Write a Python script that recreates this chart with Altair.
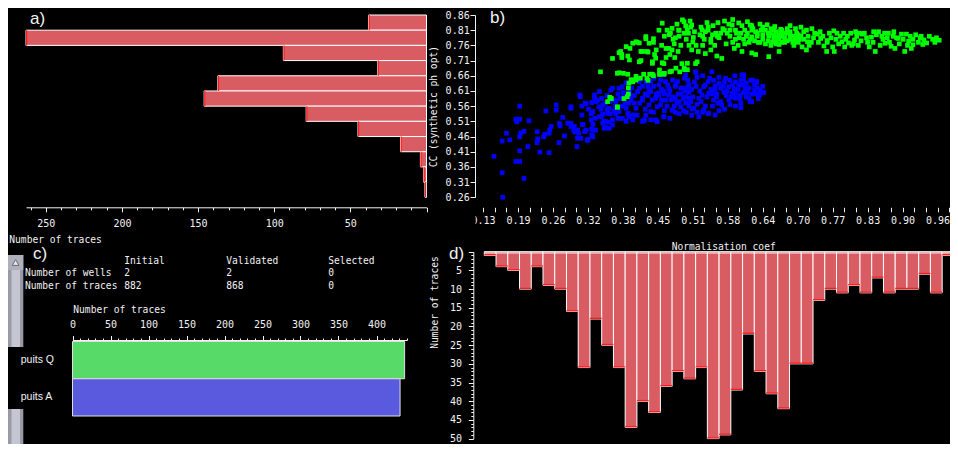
import altair as alt
import pandas as pd

# ------------------------------------------------------------------ data
# a) histogram of CC (synthetic ph opt): top edge of each 0.05 bin and its count
cc_bin_top = [0.86, 0.81, 0.76, 0.71, 0.66, 0.61, 0.56, 0.51, 0.46, 0.41, 0.36, 0.31]
cc_bin_count = [38, 263, 94, 32, 137, 146, 79, 45, 17, 4, 2, 1]
cc_bin_width = 0.05

# b) scatter (x value, CC) per well
blue_pts = [  # puits A
    (0.164, 0.260), (0.163, 0.341), (0.148, 0.395), (0.163, 0.445), (0.171, 0.471), (0.177, 0.449),
    (0.188, 0.378), (0.195, 0.378), (0.203, 0.322), (0.195, 0.413), (0.195, 0.459), (0.197, 0.472),
    (0.203, 0.477), (0.188, 0.517), (0.195, 0.517), (0.190, 0.508), (0.195, 0.560), (0.212, 0.512),
    (0.210, 0.427), (0.227, 0.440), (0.227, 0.476), (0.228, 0.452), (0.232, 0.409), (0.239, 0.459),
    (0.241, 0.467), (0.243, 0.544), (0.249, 0.407), (0.249, 0.471), (0.253, 0.493), (0.250, 0.482),
    (0.262, 0.564), (0.262, 0.547), (0.267, 0.440), (0.269, 0.495), (0.268, 0.503), (0.274, 0.523),
    (0.277, 0.462), (0.283, 0.504), (0.289, 0.553), (0.289, 0.493), (0.294, 0.481), (0.300, 0.427),
    (0.303, 0.471), (0.296, 0.475), (0.301, 0.454), (0.307, 0.454), (0.306, 0.591), (0.309, 0.531),
    (0.310, 0.500), (0.314, 0.476), (0.317, 0.569), (0.317, 0.481), (0.320, 0.451), (0.319, 0.447),
    (0.326, 0.515), (0.326, 0.535), (0.329, 0.459), (0.327, 0.485), (0.327, 0.465), (0.332, 0.583),
    (0.334, 0.481), (0.340, 0.558), (0.341, 0.608), (0.344, 0.525), (0.347, 0.504), (0.352, 0.490),
    (0.356, 0.536), (0.359, 0.507), (0.362, 0.613), (0.365, 0.498), (0.368, 0.580), (0.371, 0.536),
    (0.377, 0.619), (0.380, 0.520), (0.383, 0.560), (0.386, 0.591), (0.390, 0.637), (0.393, 0.536),
    (0.399, 0.580), (0.402, 0.515), (0.408, 0.553), (0.411, 0.608), (0.414, 0.641), (0.420, 0.580),
    (0.423, 0.515), (0.426, 0.530), (0.432, 0.613), (0.435, 0.641), (0.438, 0.580), (0.444, 0.515),
    (0.447, 0.558), (0.449, 0.603), (0.453, 0.646), (0.459, 0.525), (0.462, 0.580), (0.468, 0.619),
    (0.474, 0.547), (0.480, 0.585), (0.484, 0.641), (0.490, 0.558), (0.499, 0.591), (0.502, 0.622),
    (0.508, 0.575), (0.514, 0.553), (0.517, 0.673),
    (0.305, 0.597), (0.309, 0.560), (0.315, 0.570), (0.321, 0.550), (0.327, 0.572), (0.338, 0.580),
    (0.344, 0.550), (0.347, 0.533), (0.355, 0.550), (0.361, 0.535), (0.365, 0.515), (0.350, 0.510),
    (0.333, 0.520), (0.289, 0.558), (0.289, 0.503), (0.295, 0.493), (0.301, 0.481), (0.311, 0.500),
    (0.518, 0.671), (0.547, 0.673), (0.543, 0.652), (0.572, 0.652), (0.589, 0.660), (0.605, 0.663),
    (0.605, 0.650), (0.621, 0.646), (0.629, 0.638), (0.532, 0.624), (0.553, 0.627), (0.563, 0.619),
    (0.578, 0.624), (0.596, 0.630), (0.608, 0.619), (0.625, 0.613), (0.635, 0.613), (0.541, 0.602),
    (0.556, 0.599), (0.569, 0.606), (0.584, 0.602), (0.599, 0.597), (0.634, 0.597), (0.620, 0.575),
    (0.550, 0.580), (0.563, 0.575), (0.578, 0.580), (0.590, 0.586), (0.565, 0.564), (0.529, 0.597),
    (0.532, 0.547), (0.541, 0.536), (0.553, 0.531), (0.511, 0.551), (0.523, 0.586), (0.505, 0.586),
    (0.520, 0.566), (0.475, 0.547), (0.487, 0.575), (0.499, 0.570), (0.459, 0.525), (0.447, 0.509),
    (0.435, 0.515), (0.423, 0.513), (0.468, 0.597), (0.481, 0.630), (0.493, 0.619), (0.505, 0.630),
    (0.475, 0.646), (0.462, 0.641), (0.450, 0.630), (0.444, 0.586), (0.453, 0.564), (0.432, 0.564),
    (0.420, 0.586), (0.414, 0.619), (0.396, 0.608), (0.383, 0.586), (0.371, 0.575), (0.359, 0.553),
    (0.347, 0.564), (0.335, 0.575), (0.329, 0.542), (0.341, 0.525), (0.353, 0.509), (0.383, 0.520),
    (0.402, 0.531), (0.390, 0.553), (0.377, 0.542), (0.329, 0.481), (0.329, 0.500), (0.350, 0.487),
    (0.359, 0.487), (0.332, 0.597), (0.365, 0.619), (0.383, 0.624), (0.426, 0.641), (0.441, 0.652),
    (0.459, 0.663), (0.499, 0.663), (0.497, 0.652), (0.435, 0.608), (0.460, 0.600), (0.476, 0.590),
    (0.420, 0.510), (0.435, 0.542), (0.470, 0.520), (0.487, 0.535), (0.500, 0.540), (0.523, 0.525),
    (0.535, 0.560), (0.570, 0.550), (0.600, 0.570), (0.615, 0.585), (0.630, 0.620),
    (0.602, 0.663), (0.629, 0.641), (0.635, 0.603), (0.617, 0.575), (0.540, 0.535), (0.530, 0.540),
    (0.540, 0.640), (0.550, 0.645), (0.560, 0.635), (0.570, 0.640), (0.580, 0.645), (0.590, 0.640),
    (0.600, 0.645), (0.610, 0.635), (0.560, 0.655), (0.585, 0.630), (0.595, 0.615), (0.605, 0.605),
    (0.615, 0.620), (0.620, 0.600), (0.545, 0.615), (0.575, 0.610), (0.590, 0.600), (0.610, 0.590),
    (0.555, 0.590), (0.535, 0.630), (0.525, 0.610), (0.515, 0.640), (0.505, 0.605), (0.490, 0.600),
    (0.520, 0.655), (0.530, 0.660), (0.625, 0.630), (0.640, 0.625), (0.642, 0.605), (0.600, 0.555),
    (0.580, 0.565), (0.590, 0.560),
    (0.395, 0.570), (0.405, 0.595), (0.415, 0.570), (0.425, 0.600), (0.430, 0.625), (0.440, 0.625),
    (0.445, 0.600), (0.455, 0.580), (0.465, 0.560), (0.470, 0.610), (0.478, 0.560), (0.485, 0.600),
    (0.490, 0.620), (0.495, 0.545), (0.505, 0.560), (0.510, 0.615), (0.460, 0.545), (0.440, 0.540),
    (0.425, 0.550), (0.410, 0.530), (0.395, 0.525), (0.385, 0.605), (0.375, 0.600), (0.400, 0.620),
    (0.415, 0.650), (0.455, 0.615), (0.480, 0.625), (0.370, 0.560), (0.360, 0.575), (0.355, 0.595),
    (0.345, 0.585), (0.375, 0.520), (0.390, 0.510),
    (0.450, 0.595), (0.458, 0.610), (0.466, 0.630), (0.472, 0.580), (0.483, 0.570), (0.495, 0.585),
    (0.498, 0.610), (0.503, 0.645), (0.512, 0.590), (0.518, 0.625), (0.527, 0.575), (0.538, 0.590),
    (0.548, 0.600), (0.553, 0.612), (0.558, 0.570), (0.568, 0.625), (0.573, 0.595), (0.582, 0.590),
    (0.588, 0.615), (0.598, 0.585), (0.603, 0.630), (0.612, 0.605), (0.618, 0.645), (0.626, 0.600),
    (0.632, 0.585), (0.548, 0.560), (0.560, 0.545), (0.520, 0.540), (0.510, 0.530), (0.480, 0.540),
    (0.430, 0.595), (0.420, 0.625), (0.405, 0.570), (0.398, 0.595), (0.388, 0.570), (0.378, 0.585),
    (0.368, 0.545), (0.352, 0.570),
]
green_pts = [  # puits Q
    (0.343, 0.673), (0.360, 0.589), (0.363, 0.585), (0.374, 0.556), (0.377, 0.670), (0.385, 0.668),
    (0.392, 0.591), (0.365, 0.717), (0.377, 0.736), (0.382, 0.720), (0.396, 0.712), (0.390, 0.756),
    (0.397, 0.750), (0.408, 0.772), (0.414, 0.768), (0.414, 0.706), (0.420, 0.740), (0.426, 0.782),
    (0.432, 0.767), (0.430, 0.738), (0.438, 0.706), (0.444, 0.718), (0.440, 0.782), (0.451, 0.679),
    (0.456, 0.703), (0.456, 0.833), (0.463, 0.750), (0.469, 0.795), (0.474, 0.816), (0.474, 0.745),
    (0.480, 0.785), (0.486, 0.810), (0.493, 0.844), (0.496, 0.800), (0.499, 0.824), (0.502, 0.701),
    (0.502, 0.680), (0.504, 0.800), (0.510, 0.827), (0.512, 0.771), (0.517, 0.700), (0.496, 0.685),
    (0.488, 0.673), (0.470, 0.673), (0.438, 0.665), (0.422, 0.665), (0.408, 0.658), (0.399, 0.647),
    (0.402, 0.640),
    (0.374, 0.668), (0.380, 0.740), (0.382, 0.730), (0.393, 0.725), (0.393, 0.665), (0.402, 0.767),
    (0.408, 0.646), (0.410, 0.770), (0.417, 0.740), (0.417, 0.710), (0.426, 0.789), (0.428, 0.740),
    (0.433, 0.665), (0.438, 0.701), (0.440, 0.770), (0.442, 0.730), (0.450, 0.810), (0.451, 0.665),
    (0.459, 0.665), (0.459, 0.700), (0.463, 0.720), (0.471, 0.800), (0.473, 0.675), (0.468, 0.750),
    (0.476, 0.780), (0.479, 0.720), (0.481, 0.685), (0.487, 0.810), (0.487, 0.790), (0.492, 0.700),
    (0.496, 0.838), (0.497, 0.680), (0.502, 0.810), (0.505, 0.760), (0.508, 0.820), (0.513, 0.786),
    (0.520, 0.706), (0.522, 0.740), (0.527, 0.820), (0.530, 0.790), (0.535, 0.733), (0.540, 0.810),
    (0.545, 0.780), (0.549, 0.825), (0.554, 0.800), (0.556, 0.725), (0.560, 0.785), (0.567, 0.815),
    (0.573, 0.765), (0.578, 0.830), (0.580, 0.790), (0.588, 0.750), (0.590, 0.810), (0.597, 0.785),
    (0.602, 0.825), (0.607, 0.765), (0.612, 0.800), (0.617, 0.780), (0.622, 0.815), (0.627, 0.730),
    (0.630, 0.790), (0.635, 0.770), (0.637, 0.810),
    (0.529, 0.811), (0.533, 0.780), (0.545, 0.770), (0.565, 0.717), (0.540, 0.820), (0.557, 0.790),
    (0.570, 0.810), (0.584, 0.827), (0.590, 0.780), (0.602, 0.740), (0.607, 0.810), (0.617, 0.827),
    (0.620, 0.788), (0.627, 0.805), (0.632, 0.770), (0.640, 0.820), (0.651, 0.723), (0.651, 0.790),
    (0.660, 0.810), (0.664, 0.775), (0.673, 0.813), (0.675, 0.790), (0.680, 0.770), (0.686, 0.800),
    (0.690, 0.780), (0.697, 0.760), (0.702, 0.800), (0.707, 0.780), (0.712, 0.755), (0.720, 0.810),
    (0.723, 0.790), (0.729, 0.770), (0.735, 0.800), (0.757, 0.740), (0.758, 0.776), (0.762, 0.800),
    (0.771, 0.740), (0.774, 0.780), (0.782, 0.790), (0.790, 0.755), (0.792, 0.780), (0.801, 0.800),
    (0.806, 0.765), (0.812, 0.790), (0.820, 0.775), (0.826, 0.800), (0.832, 0.770), (0.839, 0.787),
    (0.846, 0.740), (0.852, 0.805), (0.860, 0.780), (0.863, 0.800), (0.872, 0.770), (0.879, 0.790),
    (0.882, 0.750), (0.888, 0.783), (0.894, 0.797), (0.900, 0.740), (0.907, 0.774), (0.910, 0.790),
    (0.915, 0.762), (0.925, 0.770), (0.933, 0.763), (0.928, 0.785),
    (0.653, 0.800), (0.662, 0.789), (0.674, 0.805), (0.698, 0.775), (0.658, 0.770), (0.670, 0.763),
    (0.710, 0.790), (0.722, 0.772), (0.740, 0.797), (0.746, 0.783), (0.758, 0.770), (0.776, 0.800),
    (0.779, 0.765), (0.795, 0.790), (0.803, 0.760), (0.822, 0.797), (0.830, 0.785), (0.858, 0.790),
    (0.864, 0.767), (0.880, 0.805), (0.885, 0.785), (0.903, 0.797), (0.915, 0.780), (0.930, 0.790),
    (0.951, 0.780), (0.963, 0.777),
    (0.356, 0.575), (0.361, 0.585), (0.374, 0.558), (0.386, 0.585), (0.394, 0.600), (0.394, 0.620),
    (0.395, 0.636), (0.404, 0.646), (0.410, 0.652), (0.416, 0.652), (0.428, 0.652), (0.430, 0.645),
    (0.440, 0.660), (0.452, 0.665), (0.460, 0.668),
    (0.600, 0.800), (0.610, 0.790), (0.620, 0.810), (0.630, 0.800), (0.640, 0.795), (0.645, 0.810),
    (0.650, 0.800), (0.655, 0.815), (0.660, 0.795), (0.665, 0.805), (0.670, 0.795), (0.675, 0.810),
    (0.680, 0.800), (0.685, 0.815), (0.690, 0.805), (0.695, 0.790), (0.700, 0.785), (0.705, 0.795),
    (0.640, 0.780), (0.650, 0.775), (0.660, 0.780), (0.670, 0.780), (0.680, 0.785), (0.690, 0.795),
    (0.615, 0.770), (0.625, 0.775), (0.645, 0.765), (0.655, 0.760), (0.665, 0.765), (0.675, 0.770),
    (0.685, 0.775), (0.695, 0.770), (0.705, 0.770), (0.715, 0.780), (0.620, 0.825), (0.635, 0.830),
    (0.648, 0.828), (0.662, 0.822), (0.592, 0.800), (0.580, 0.810), (0.596, 0.834), (0.612, 0.838),
    (0.570, 0.840), (0.620, 0.735), (0.670, 0.740), (0.720, 0.745),
    (0.725, 0.760), (0.733, 0.785), (0.742, 0.770), (0.750, 0.790), (0.752, 0.758), (0.765, 0.785),
    (0.768, 0.755), (0.785, 0.772), (0.788, 0.800), (0.797, 0.768), (0.808, 0.778), (0.815, 0.760),
    (0.817, 0.800), (0.835, 0.755), (0.842, 0.770), (0.848, 0.795), (0.855, 0.760), (0.868, 0.785),
    (0.875, 0.757), (0.890, 0.765), (0.897, 0.780), (0.905, 0.760), (0.920, 0.795), (0.935, 0.778),
    (0.940, 0.768), (0.945, 0.790), (0.955, 0.770), (0.958, 0.785), (0.912, 0.750), (0.870, 0.800),
    (0.843, 0.805), (0.810, 0.805), (0.770, 0.808), (0.745, 0.805), (0.730, 0.815), (0.715, 0.805),
    (0.710, 0.820), (0.700, 0.815), (0.690, 0.825),
    (0.460, 0.790), (0.465, 0.810), (0.478, 0.765), (0.483, 0.830), (0.490, 0.760), (0.500, 0.780),
    (0.507, 0.840), (0.515, 0.805), (0.518, 0.760), (0.525, 0.795), (0.535, 0.805), (0.538, 0.835),
    (0.548, 0.795), (0.552, 0.760), (0.558, 0.835), (0.563, 0.800), (0.575, 0.800), (0.585, 0.770),
    (0.595, 0.760), (0.605, 0.780), (0.585, 0.845), (0.545, 0.745), (0.530, 0.760), (0.470, 0.730),
    (0.455, 0.760), (0.445, 0.745), (0.485, 0.740), (0.510, 0.745),
]

# c) summary table and traces per well
table_rows = ["Number of wells", "Number of traces"]
table_cols = ["Initial", "Validated", "Selected"]
table_initial = ["2", "882"]
table_validated = ["2", "868"]
table_selected = ["0", "0"]
wells = ["puits Q", "puits A"]
well_traces = [437, 431]

# d) histogram of the normalisation coefficient (41 bins)
norm_bins = list(range(1, 42))
norm_counts = [1, 4, 5, 10, 4, 9, 10, 16, 31, 18, 25, 31, 47, 40, 43, 36, 32, 34, 31, 50, 49,
               37, 22, 32, 38, 42, 30, 30, 13, 10, 11, 9, 11, 7, 11, 10, 10, 6, 11, 1, 1]

# tick values
a_ticks = list(range(0, 261, 10))
b_y_ticks = [0.26, 0.31, 0.36, 0.41, 0.46, 0.51, 0.56, 0.61, 0.66, 0.71, 0.76, 0.81, 0.86]
b_x_ticks = [round(0.128 + k * 0.064 / 3, 5) for k in range(41)]
c_ticks = list(range(0, 441, 10))
d_ticks = list(range(0, 51))

# ------------------------------------------------------------------ style / layout
W, H = 942, 436
OFF = 8


def P(v):
    return v - OFF


MONO = "DejaVu Sans Mono"
SANS = "Liberation Sans"
FG = "#f2f2f2"
RED = "#da5c63"
EDGE_RED = "#ff1a1a"


def txt(s, x, y, size=9.6, font=MONO, align="left", angle=0):
    return alt.Chart(pd.DataFrame({"t": [s]})).mark_text(
        font=font, fontSize=size, color=FG, align=align, baseline="middle", angle=angle
    ).encode(text="t:N", x=alt.value(x), y=alt.value(y))


def box(x0, x1, y0, y1, fill, **kw):
    return alt.Chart(pd.DataFrame({"k": [0]})).mark_rect(fill=fill, **kw).encode(
        x=alt.value(x0), x2=alt.value(x1), y=alt.value(y0), y2=alt.value(y1))


layers = []

# ---- scrollbar + label box (panel c)
layers.append(box(0, 15.3, 247, 436, "#9a9aa6"))
layers.append(box(3.5, 12, 262, 436, "#c6c6d2"))
layers.append(box(0, 15.3, 247, 262, "#b0b0bc"))
layers.append(alt.Chart(pd.DataFrame({"k": [0]})).mark_point(
    shape="triangle-up", size=45, filled=True, fill="#e4e4ec", stroke="#6c6c78", strokeWidth=1, opacity=1
).encode(x=alt.value(7.6), y=alt.value(254.5)))
layers.append(box(0, 64, 339, 401, "black"))

# ---- panel a
dfa = pd.DataFrame({"top": cc_bin_top, "n": cc_bin_count})
dfa["bottom"] = [round(t - cc_bin_width, 2) for t in cc_bin_top]
xa = alt.Scale(domain=[0, 263], range=[P(426.5), P(26)], nice=False, zero=False)
ya = alt.Scale(domain=[0.26, 0.86], range=[P(197.3), P(15)], nice=False, zero=False)
axis_a = alt.Axis(orient="bottom", offset=P(207.3) - H, values=a_ticks,
                  labelExpr="datum.value % 50 === 0 && datum.value > 0 ? datum.label : ''",
                  tickSize={"condition": {"test": "datum.value % 50 === 0", "value": 4.5}, "value": 2.5},
                  labelPadding=11.5, labelBaseline="middle", title=None)
layers.append(alt.Chart(dfa).mark_rect(fill=RED, stroke="white", strokeWidth=1).encode(
    x=alt.X("n:Q", scale=xa, axis=axis_a), x2=alt.datum(0),
    y=alt.Y("top:Q", scale=ya, axis=None), y2="bottom:Q"))
layers.append(alt.Chart(dfa).transform_calculate(n2="datum.n - 0.8").mark_rect(fill=EDGE_RED).encode(
    x=alt.X("n:Q", scale=xa, axis=None), x2="n2:Q",
    y=alt.Y("top:Q", scale=ya, axis=None), y2="bottom:Q"))

# ---- panel b
dfb_blue = pd.DataFrame(blue_pts, columns=["v", "cc"])
dfb_green = pd.DataFrame(green_pts, columns=["v", "cc"])
xb = alt.Scale(domain=[0.1133, 0.9828], range=[P(475), P(950)], nice=False, zero=False)
yb = alt.Scale(domain=[0.26, 0.86], range=[P(197.3), P(15)], nice=False, zero=False)
axis_bx = alt.Axis(orient="bottom", offset=P(207.3) - H, values=b_x_ticks, domain=False, tickSize=4.5,
                   labelExpr="abs((datum.value - 0.128) / 0.064 - round((datum.value - 0.128) / 0.064)) < 0.01 ? format(datum.value, '.2f') : ''",
                   labelPadding=8.9, labelBaseline="middle", title=None)
axis_by = alt.Axis(orient="left", offset=-P(475), values=b_y_ticks, format=".2f", tickSize=5,
                   labelPadding=0.8, title=None)
layers.append(alt.Chart(dfb_blue).mark_square(size=22, color="#0000ff", opacity=1).encode(
    x=alt.X("v:Q", scale=xb, axis=axis_bx), y=alt.Y("cc:Q", scale=yb, axis=axis_by)))
layers.append(alt.Chart(dfb_green).mark_square(size=22, color="#00ff00", opacity=1).encode(
    x=alt.X("v:Q", scale=xb, axis=None), y=alt.Y("cc:Q", scale=yb, axis=None)))
layers.append(box(432, 467.4, 205, 221, "black"))

# ---- panel c
dfc = pd.DataFrame({"well": wells, "n": well_traces})
xc = alt.Scale(domain=[0, 440], range=[P(72.5), P(406.9)], nice=False, zero=False)
yc = alt.Scale(type="band", domain=wells, range=[P(341.5), P(416)], paddingInner=0, paddingOuter=0)
axis_c = alt.Axis(orient="top", offset=-P(340), values=c_ticks,
                  labelExpr="datum.value % 50 === 0 ? datum.label : ''",
                  tickSize={"condition": {"test": "datum.value % 50 === 0", "value": 4.5}, "value": 2},
                  labelPadding=11.5, labelBaseline="middle", title=None)
layers.append(alt.Chart(dfc).mark_rect(stroke="#e0e0e0", strokeWidth=1).encode(
    x=alt.X("n:Q", scale=xc, axis=axis_c), x2=alt.datum(0),
    y=alt.Y("well:N", scale=yc, axis=None),
    color=alt.Color("well:N", scale=alt.Scale(domain=wells, range=["#58da68", "#5a5ade"]), legend=None)))
layers.append(alt.Chart(dfc).mark_text(align="left", baseline="middle", font=SANS, fontSize=10.5, color=FG).encode(
    x=alt.value(P(20.7)), y=alt.Y("well:N", scale=yc, axis=None), text="well:N"))

# table
rows_long = [{"row": "head", "col": c, "t": c} for c in table_cols]
for i, r in enumerate(table_rows):
    for c, vals in zip(table_cols, [table_initial, table_validated, table_selected]):
        rows_long.append({"row": r, "col": c, "t": vals[i]})
dft = pd.DataFrame(rows_long)
ty = alt.Scale(type="point", domain=["head"] + table_rows, range=[P(260.7), P(285.7)], padding=0)
tx = alt.Scale(type="point", domain=table_cols, range=[P(124.3), P(328.3)], padding=0)
layers.append(alt.Chart(dft).mark_text(align="left", baseline="middle", font=MONO, fontSize=9.6, color=FG).encode(
    x=alt.X("col:N", scale=tx, axis=None), y=alt.Y("row:N", scale=ty, axis=None), text="t:N"))
layers.append(alt.Chart(pd.DataFrame({"row": table_rows})).mark_text(
    align="left", baseline="middle", font=MONO, fontSize=9.6, color=FG).encode(
    x=alt.value(P(25)), y=alt.Y("row:N", scale=ty, axis=None), text="row:N"))

# ---- panel d
dfd = pd.DataFrame({"bin": norm_bins, "n": norm_counts})
xd = alt.Scale(type="band", domain=norm_bins, range=[P(484.3), P(484.3 + 41 * 11.74)], paddingInner=0, paddingOuter=0)
yd = alt.Scale(domain=[0, 50], range=[P(251.7), P(438.6)], nice=False, zero=False)
axis_dx = alt.Axis(orient="top", offset=-P(252.5), ticks=False, labels=False, domain=True, title=None)
axis_dy = alt.Axis(orient="left", offset=-P(473.3), values=d_ticks,
                   labelExpr="datum.value % 5 === 0 && datum.value > 0 ? datum.label : ''",
                   tickSize={"condition": {"test": "datum.value % 5 === 0", "value": 5}, "value": 2.5},
                   labelPadding=6.7, title=None)
layers.append(alt.Chart(dfd).mark_rect(fill=RED, stroke="white", strokeWidth=1).encode(
    x=alt.X("bin:O", scale=xd, axis=axis_dx), y=alt.Y("n:Q", scale=yd, axis=axis_dy), y2=alt.datum(0)))
layers.append(alt.Chart(dfd).transform_calculate(n2="datum.n - 0.35").mark_rect(fill=EDGE_RED).encode(
    x=alt.X("bin:O", scale=xd, axis=None), y=alt.Y("n:Q", scale=yd, axis=None), y2="n2:Q"))

# ---- texts
layers += [
    txt("a)", P(30), P(18.5), size=17, font=SANS),
    txt("b)", P(490), P(17.5), size=17, font=SANS),
    txt("c)", P(33), P(254), size=17, font=SANS),
    txt("d)", P(449), P(253.5), size=17, font=SANS),
    txt("Number of traces", P(9.3), P(239.5)),
    txt("CC (synthetic ph opt)", P(433.7), P(106.7), align="center", angle=270),
    txt("Number of traces", P(73.3), P(310)),
    txt("Normalisation coef", P(723.7), P(246.7), align="center"),
    txt("Number of traces", P(435), P(302.5), align="center", angle=270),
]

chart = alt.layer(*layers).resolve_scale(
    x="independent", y="independent", color="independent"
).resolve_axis(
    x="independent", y="independent"
).properties(
    width=W, height=H, autosize=alt.AutoSizeParams(type="none"), padding=0, background="black"
).configure_view(
    strokeWidth=0
).configure_axis(
    grid=False, domainColor=FG, tickColor=FG, labelColor=FG, labelFont=MONO, labelFontSize=10,
    labelFlush=False, labelOverlap=False, domainWidth=1, tickWidth=1
)

chart.save("out.html", embed_options={"renderer": "svg", "actions": False})
